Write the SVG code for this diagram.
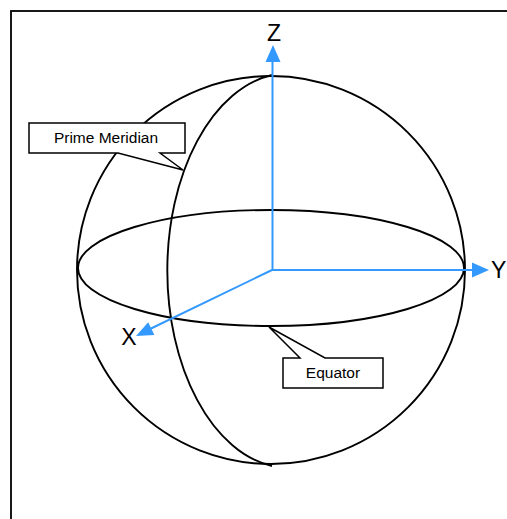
<svg xmlns="http://www.w3.org/2000/svg" width="507" height="519" viewBox="0 0 507 519">
<defs>
<style>
.ln{fill:none;stroke:#000;stroke-width:1.9}
.ax{stroke:#3399ff;stroke-width:2;fill:none}
.ah{fill:#3399ff}
.lbl{font-family:"Liberation Sans",Arial,sans-serif;font-size:15.5px;fill:#000}
.axl{font-family:"Liberation Sans",Arial,sans-serif;font-size:23px;fill:#000}
.box{fill:#fff;stroke:#000;stroke-width:1.5}
</style>
</defs>
<rect x="11" y="11" width="520" height="530" fill="#fff" stroke="#000" stroke-width="1.8"/>
<g id="sphere">
<circle class="ln" cx="271" cy="270" r="194"/>
</g>
<g id="equator">
<ellipse class="ln" cx="271" cy="268" rx="193" ry="58"/>
</g>
<g id="meridian">
<path class="ln" d="M272,75 A122,197.5 0 0 0 272,466"/>
</g>
<g id="connectors">
<line class="ax" x1="272.5" y1="270" x2="272.5" y2="60"/>
<polygon class="ah" points="273,45 265.5,62 280.5,62"/>
<line class="ax" x1="272" y1="270" x2="474" y2="270"/>
<polygon class="ah" points="489,270 472,262.5 472,277.5"/>
<line class="ax" x1="272" y1="270" x2="150" y2="329"/>
<polygon class="ah" points="136,336 148.2,322.3 154.4,334.9"/>
</g>
<g id="axis-z"><text class="axl" x="274" y="41" text-anchor="middle">Z</text></g>
<g id="axis-y"><text class="axl" x="491" y="278">Y</text></g>
<g id="axis-x"><text class="axl" x="129" y="345" text-anchor="middle">X</text></g>
<g id="prime-meridian-label">
<path class="box" d="M29,123 H185 V153 H160 L183,170 L118,153 H29 Z"/>
<text class="lbl" x="106" y="143" text-anchor="middle">Prime Meridian</text>
</g>
<g id="equator-label">
<path class="box" d="M283,358 H300 L269,327 L325,358 H383 V388 H283 Z"/>
<text class="lbl" x="333" y="378" text-anchor="middle">Equator</text>
</g>
</svg>
